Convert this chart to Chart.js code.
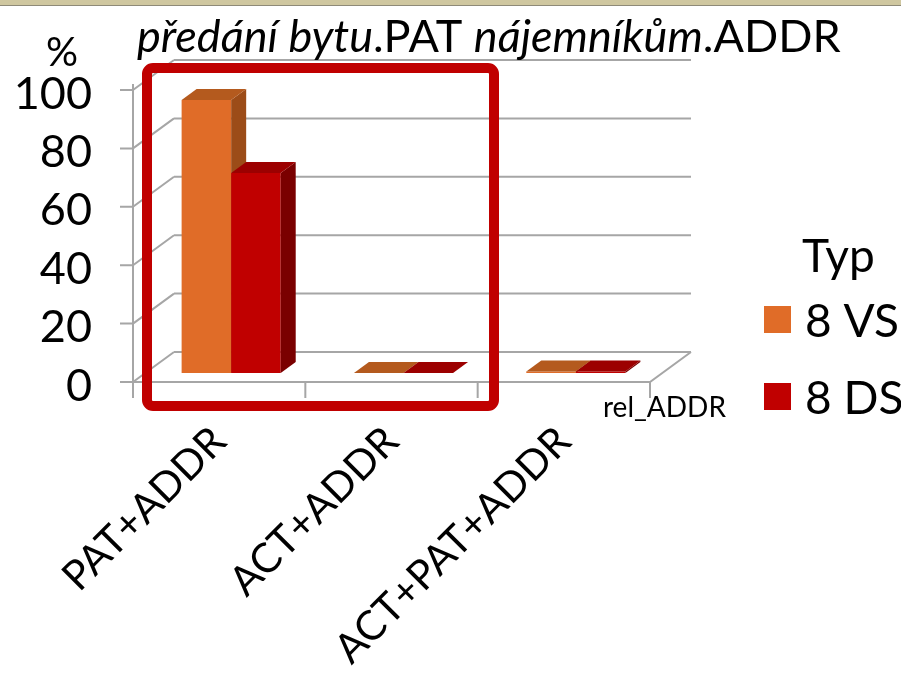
<!DOCTYPE html>
<html lang="cs">
<head>
<meta charset="UTF-8">
<title>předání bytu.PAT nájemníkům.ADDR</title>
<script src="https://cdn.jsdelivr.net/npm/chart.js"></script>
<style>
  html, body { margin: 0; padding: 0; background: #fff; }
  #wrap { width: 901px; height: 678px; }
</style>
</head>
<body>
<div id="wrap"><canvas id="chart" width="901" height="678"></canvas></div>
<script>
// data
const categories = ['PAT+ADDR', 'ACT+ADDR', 'ACT+PAT+ADDR'];
const seriesNames = ['8 VS', '8 DS'];
const vs8 = [93.5, 0, 0.5];
const ds8 = [68.5, 0, 0.5];
const yTicks = [0, 20, 40, 60, 80, 100];

// front / side / top colours for the fake 3D columns
const faces = [
  { front: '#E06C28', side: '#9C4C18', top: '#B45A1E' },
  { front: '#C00000', side: '#7A0000', top: '#9C0000' }
];

const FONT = 'Lato, "Open Sans", sans-serif';
const WALL = { dx: 41, dy: -30 };   // depth of the back wall
const BAR = { dx: 15, dy: -11 };    // depth of a column
const SHIFT = { dx: 12, dy: -9 };   // columns sit a bit behind the front edge

const grey = '#A6A6A6';

const excel3d = {
  id: 'excel3d',
  beforeDraw(chart) {
    const c = chart.ctx;
    c.save();
    c.fillStyle = '#fff';
    c.fillRect(0, 0, chart.width, chart.height);
    // strip of the slide background at the very top
    c.fillStyle = '#CFC7A0';
    c.fillRect(0, 0, chart.width, 5);
    c.fillStyle = '#8E8A78';
    c.fillRect(0, 5, chart.width, 1);
    c.restore();
  },
  beforeDatasetsDraw(chart) {
    const c = chart.ctx;
    const { left, right, bottom } = chart.chartArea;
    const y = chart.scales.y;
    c.save();
    c.strokeStyle = grey;
    c.lineWidth = 2;
    c.beginPath();
    yTicks.forEach(v => {
      const py = y.getPixelForValue(v);
      // back wall gridline
      c.moveTo(left + WALL.dx, py + WALL.dy);
      c.lineTo(right + WALL.dx, py + WALL.dy);
      // side wall
      c.moveTo(left, py);
      c.lineTo(left + WALL.dx, py + WALL.dy);
      // tick mark
      c.moveTo(left - 13, py);
      c.lineTo(left, py);
    });
    // value axis
    c.moveTo(left, y.getPixelForValue(100) - 6);
    c.lineTo(left, bottom + 16);
    // floor
    c.moveTo(left, bottom);
    c.lineTo(right, bottom);
    c.lineTo(right + WALL.dx, bottom + WALL.dy);
    // category ticks between groups
    const step = (right - left) / categories.length;
    for (let i = 1; i <= categories.length; i++) {
      c.moveTo(left + i * step, bottom);
      c.lineTo(left + i * step, bottom + 16);
    }
    c.stroke();

    // columns: left to right so the next one hides the side of the previous
    c.translate(SHIFT.dx, SHIFT.dy);
    chart.data.datasets.forEach((ds, di) => {
      const meta = chart.getDatasetMeta(di);
      const f = faces[di];
      meta.data.forEach(el => {
        const p = el.getProps(['x', 'y', 'base', 'width'], true);
        const x0 = p.x - p.width / 2, x1 = p.x + p.width / 2;
        el.draw(c);
        // side
        c.fillStyle = f.side;
        c.beginPath();
        c.moveTo(x1, p.y);
        c.lineTo(x1 + BAR.dx, p.y + BAR.dy);
        c.lineTo(x1 + BAR.dx, p.base + BAR.dy);
        c.lineTo(x1, p.base);
        c.closePath();
        c.fill();
        // top
        c.fillStyle = f.top;
        c.beginPath();
        c.moveTo(x0, p.y);
        c.lineTo(x0 + BAR.dx, p.y + BAR.dy);
        c.lineTo(x1 + BAR.dx, p.y + BAR.dy);
        c.lineTo(x1, p.y);
        c.closePath();
        c.fill();
      });
    });
    c.restore();
    return false;
  },
  afterDraw(chart) {
    const c = chart.ctx;
    c.save();
    c.fillStyle = '#000';
    c.textBaseline = 'alphabetic';

    // title with mixed italics
    const parts = [['předání bytu', true], ['.PAT ', false], ['nájemníkům', true], ['.ADDR', false]];
    let tx = 137;
    parts.forEach(([t, it]) => {
      c.font = (it ? 'italic ' : '') + '45px ' + FONT;
      c.fillText(t, tx, 52);
      tx += c.measureText(t).width;
    });

    // unit above the value axis
    c.font = '40px ' + FONT;
    c.textAlign = 'center';
    c.fillText('%', 62, 66);

    // axis caption
    c.font = '28px ' + FONT;
    c.textAlign = 'left';
    c.fillText('rel_ADDR', 603, 417);

    // legend
    c.font = '46px ' + FONT;
    c.fillText('Typ', 802, 272);
    chart.data.datasets.forEach((ds, i) => {
      const yy = 306 + i * 77;
      c.fillStyle = ds.backgroundColor;
      c.fillRect(764, yy, 27, 27);
      c.fillStyle = '#000';
      c.fillText(ds.label, 805, yy + 31);
    });

    // highlight frame
    c.strokeStyle = '#C00000';
    c.lineWidth = 10;
    c.beginPath();
    c.roundRect(147, 68, 347, 338, 6);
    c.stroke();
    c.restore();
  }
};

new Chart(document.getElementById('chart'), {
  type: 'bar',
  data: {
    labels: categories,
    datasets: [
      { label: seriesNames[0], data: vs8, backgroundColor: faces[0].front },
      { label: seriesNames[1], data: ds8, backgroundColor: faces[1].front }
    ]
  },
  options: {
    responsive: false,
    animation: false,
    layout: { padding: { left: 0, right: 251, top: 90, bottom: 0 } },
    categoryPercentage: 0.575,
    barPercentage: 1,
    plugins: {
      legend: { display: false },
      title: { display: false },
      tooltip: { enabled: false }
    },
    scales: {
      y: {
        min: 0,
        max: 100,
        ticks: { stepSize: 20, color: '#000', font: { family: FONT, size: 45 }, padding: 33, labelOffset: 4 },
        grid: { display: false },
        border: { display: false },
        afterFit(s) { s.width = 133; }
      },
      x: {
        ticks: { color: '#000', font: { family: FONT, size: 41 }, minRotation: 45, maxRotation: 45, padding: 27 },
        grid: { display: false },
        border: { display: false },
        afterFit(s) { s.height = 296; }
      }
    }
  },
  plugins: [excel3d]
});
</script>
</body>
</html>
